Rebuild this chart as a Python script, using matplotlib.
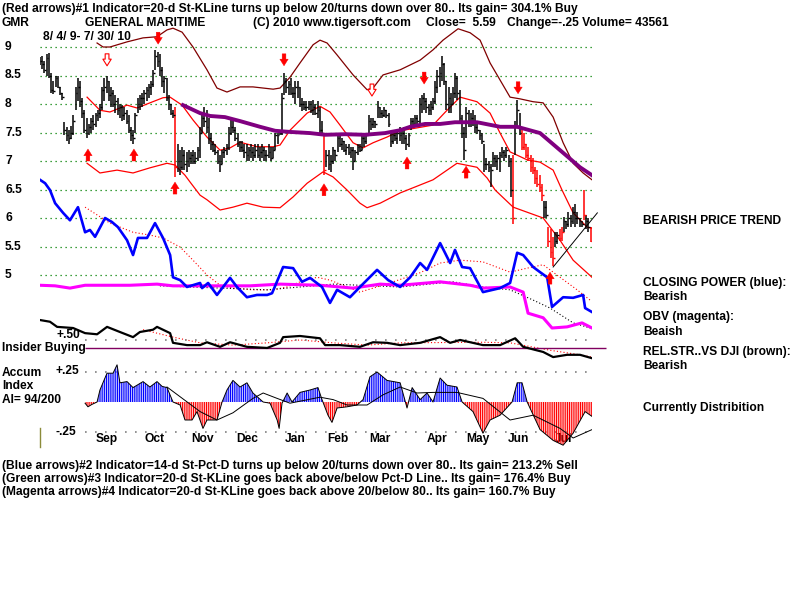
import numpy as np
import matplotlib
matplotlib.use('Agg')
import matplotlib.pyplot as plt
from matplotlib import transforms

# ---- daily bars (day index 0 = 8/4/09) ----
hi = [
    8.82, 8.85, 8.75, 8.88, 8.90, 8.55, 8.40, 8.50, 8.50, 8.30,
    8.20, 7.68, 7.60, 7.55, 7.62, 7.80, 8.30, 8.45, 8.40, 8.10,
    7.90, 7.75, 7.65, 7.75, 7.80, 7.85, 7.90, 8.00, 8.30, 8.45,
    8.50, 8.40, 8.30, 8.25, 8.15, 8.10, 8.00, 7.98, 7.95, 7.90,
    7.80, 7.60, 7.55, 7.85, 8.10, 8.15, 8.20, 8.25, 8.30, 8.35,
    8.40, 8.60, 8.95, 8.92, 8.88, 8.65, 8.50, 8.45, 8.15, 8.00,
    7.90, 7.95, 7.30, 7.20, 7.25, 7.20, 7.15, 7.20, 7.15, 7.20,
    7.15, 7.25, 7.60, 7.80, 7.95, 7.90, 7.75, 7.50, 7.35, 7.30,
    7.20, 7.10, 7.20, 7.25, 7.30, 7.60, 7.75, 7.70, 7.60, 7.50,
    7.35, 7.35, 7.30, 7.30, 7.25, 7.30, 7.25, 7.30, 7.30, 7.25,
    7.30, 7.25, 7.20, 7.30, 7.25, 7.25, 7.50, 7.50, 7.55, 8.20,
    8.55, 8.45, 8.40, 8.45, 8.30, 8.40, 8.40, 8.30, 8.10, 8.05,
    8.05, 8.05, 8.05, 8.07, 8.00, 8.05, 7.95, 7.70, 7.45, 7.20,
    7.20, 7.10, 7.25, 7.20, 7.45, 7.50, 7.40, 7.35, 7.30, 7.30,
    7.25, 7.25, 7.20, 7.30, 7.30, 7.45, 7.45, 7.50, 7.80, 7.75,
    7.75, 7.70, 8.05, 7.95, 7.90, 7.95, 7.90, 7.85, 7.50, 7.50,
    7.55, 7.55, 7.60, 7.55, 7.60, 7.45, 7.50, 7.75, 7.75, 7.80,
    7.80, 8.10, 8.15, 8.20, 8.10, 8.00, 8.05, 8.10, 8.40, 8.60,
    8.65, 8.85, 8.72, 8.40, 8.30, 8.20, 8.30, 8.55, 8.50, 8.25,
    7.80, 7.60, 7.95, 7.90, 7.85, 7.90, 7.80, 7.70, 7.55, 7.50,
    7.30, 7.05, 7.00, 6.95, 7.15, 7.10, 7.10, 7.15, 7.25, 7.20,
    7.25, 7.10, 7.05, 7.10, 7.70, 8.07, 7.85, 7.55, 7.50, 7.30,
    7.25, 7.10, 7.05, 6.90, 6.85, 6.75, 6.60, 6.30, 6.30, 5.85,
    5.80, 5.67, 5.75, 5.75, 5.80, 5.85, 6.02, 5.95, 6.10, 6.05,
    6.20, 6.25, 6.10, 6.00, 5.95, 6.50, 6.05, 6.00, 5.85,
]
lo = [
    8.68, 8.62, 8.55, 8.50, 8.45, 8.20, 8.18, 8.30, 8.28, 8.15,
    8.07, 7.45, 7.35, 7.30, 7.38, 7.45, 7.90, 8.05, 7.95, 7.75,
    7.50, 7.40, 7.45, 7.50, 7.55, 7.60, 7.70, 7.75, 7.90, 8.05,
    8.20, 8.05, 7.95, 7.95, 7.85, 7.80, 7.75, 7.70, 7.72, 7.65,
    7.50, 7.35, 7.30, 7.50, 7.85, 7.90, 7.95, 8.00, 8.05, 8.10,
    8.15, 8.30, 8.60, 8.65, 8.50, 8.30, 8.20, 8.05, 7.90, 7.80,
    7.75, 6.72, 6.80, 6.75, 6.85, 6.85, 6.80, 6.90, 6.95, 6.95,
    6.95, 7.00, 7.05, 7.50, 7.60, 7.50, 7.30, 7.20, 7.15, 7.10,
    6.95, 6.80, 6.95, 7.05, 7.10, 7.20, 7.45, 7.50, 7.35, 7.25,
    7.15, 7.15, 7.05, 7.00, 7.00, 7.05, 7.00, 7.05, 7.05, 7.00,
    7.05, 7.00, 7.00, 7.05, 7.00, 7.05, 7.20, 7.30, 7.45, 7.45,
    8.15, 8.20, 8.15, 8.15, 8.10, 8.00, 8.10, 7.95, 7.88, 7.90,
    7.88, 7.90, 7.85, 7.80, 7.80, 7.75, 7.50, 7.45, 6.75, 6.90,
    6.85, 6.80, 6.95, 7.00, 7.15, 7.25, 7.20, 7.15, 7.10, 7.10,
    7.05, 6.85, 7.00, 7.10, 7.15, 7.20, 7.25, 7.30, 7.50, 7.55,
    7.58, 7.58, 7.75, 7.75, 7.75, 7.78, 7.75, 7.60, 7.25, 7.30,
    7.35, 7.30, 7.35, 7.30, 7.30, 7.20, 7.25, 7.55, 7.60, 7.65,
    7.65, 7.65, 7.85, 7.90, 7.85, 7.80, 7.80, 7.90, 8.00, 8.20,
    8.30, 8.40, 8.33, 7.90, 7.85, 7.85, 8.00, 8.10, 8.07, 7.65,
    7.40, 7.02, 7.40, 7.60, 7.60, 7.62, 7.50, 7.48, 7.36, 7.30,
    6.80, 6.85, 6.80, 6.55, 6.90, 6.90, 6.85, 6.80, 7.05, 7.00,
    7.05, 6.90, 6.37, 5.90, 7.10, 7.60, 7.45, 7.20, 7.20, 7.05,
    7.00, 6.80, 6.78, 6.60, 6.55, 6.45, 6.30, 6.00, 6.00, 5.50,
    5.30, 5.15, 5.50, 5.55, 5.60, 5.60, 5.75, 5.80, 5.85, 5.85,
    5.90, 5.85, 5.90, 5.85, 5.85, 5.97, 5.80, 5.75, 5.58,
]
cl = [
    8.75, 8.70, 8.60, 8.80, 8.50, 8.25, 8.22, 8.45, 8.30, 8.20,
    8.12, 7.55, 7.45, 7.40, 7.50, 7.70, 8.20, 8.30, 8.05, 7.85,
    7.55, 7.50, 7.60, 7.70, 7.65, 7.80, 7.85, 7.95, 8.25, 8.30,
    8.40, 8.15, 8.20, 8.00, 8.05, 7.90, 7.95, 7.80, 7.85, 7.70,
    7.55, 7.45, 7.40, 7.80, 8.00, 8.10, 8.10, 8.20, 8.25, 8.30,
    8.35, 8.55, 8.85, 8.75, 8.60, 8.40, 8.45, 8.10, 8.00, 7.85,
    7.80, 6.90, 7.00, 6.90, 7.10, 6.95, 7.00, 7.05, 7.10, 7.00,
    7.05, 7.20, 7.50, 7.75, 7.70, 7.60, 7.40, 7.30, 7.20, 7.15,
    7.00, 6.95, 7.15, 7.20, 7.25, 7.50, 7.60, 7.55, 7.40, 7.30,
    7.25, 7.20, 7.15, 7.10, 7.20, 7.15, 7.10, 7.20, 7.10, 7.15,
    7.20, 7.10, 7.10, 7.15, 7.05, 7.20, 7.45, 7.45, 7.50, 8.10,
    8.40, 8.30, 8.35, 8.20, 8.20, 8.30, 8.30, 8.00, 8.00, 7.95,
    7.95, 8.00, 7.90, 7.95, 7.85, 7.90, 7.55, 7.50, 6.85, 7.10,
    6.95, 7.00, 7.20, 7.10, 7.40, 7.30, 7.35, 7.20, 7.25, 7.15,
    7.20, 7.00, 7.15, 7.25, 7.20, 7.40, 7.35, 7.45, 7.70, 7.65,
    7.70, 7.65, 7.95, 7.85, 7.80, 7.90, 7.80, 7.65, 7.35, 7.45,
    7.40, 7.50, 7.45, 7.50, 7.40, 7.30, 7.45, 7.70, 7.65, 7.75,
    7.70, 8.00, 8.10, 8.05, 7.95, 7.90, 7.95, 8.05, 8.30, 8.50,
    8.55, 8.70, 8.40, 8.00, 8.10, 8.00, 8.20, 8.45, 8.20, 7.75,
    7.50, 7.20, 7.85, 7.70, 7.75, 7.70, 7.60, 7.55, 7.45, 7.35,
    6.95, 6.95, 6.90, 6.85, 7.05, 7.00, 7.05, 7.10, 7.15, 7.10,
    7.20, 7.00, 6.50, 6.00, 7.60, 7.90, 7.50, 7.25, 7.30, 7.10,
    7.05, 6.90, 6.85, 6.70, 6.60, 6.55, 6.40, 6.20, 6.05, 5.60,
    5.40, 5.30, 5.60, 5.70, 5.65, 5.75, 5.95, 5.90, 6.00, 5.95,
    6.10, 6.00, 6.00, 5.95, 5.90, 6.05, 5.95, 5.85, 5.59,
]
red_bars = [61, 128, 213, 217, 218, 219, 220, 221, 222, 223, 224, 225, 226,
            229, 230, 231, 234, 235, 245, 248]

# ---- bands and averages (day, price) ----
band_hi_d = [25.7, 28.4, 31.5, 39.2, 46.4, 52.7, 57.2, 59.9, 64, 68.9, 75.2, 79.7, 84.2,
             90.1, 95.9, 105, 108.1, 112.6, 117.1, 123, 126.1, 129.3, 133.8, 141, 147.3,
             150, 154.5, 162.2, 171.2, 177, 181.5, 188.3, 193.7, 198.2, 202.7, 207.2,
             211.7, 216.2, 222.1, 226.6, 231.1, 235.6, 240.1, 244.6, 248.6]
band_hi_v = [9.07, 9.0, 9.0, 9.09, 9.16, 9.18, 9.3, 9.33, 9.26, 9.0, 8.6, 8.28, 8.21,
             8.3, 8.3, 8.26, 8.28, 8.47, 8.72, 9.04, 9.12, 9.07, 8.86, 8.51, 8.25,
             8.28, 8.51, 8.6, 8.77, 8.95, 9.12, 9.32, 9.25, 9.12, 8.72, 8.42,
             8.12, 8.09, 8.04, 8.02, 7.77, 7.32, 6.96, 6.79, 6.67]
mid_d = [21.2, 27, 31.5, 39.2, 43.7, 49.5, 55.4, 58.6, 64, 68.9, 75.2, 81.1, 85.6, 90.1,
         97.7, 105, 108.1, 112.6, 120.3, 126.1, 130.6, 135.1, 141, 145.5, 150, 156.3,
         162.2, 177, 183.3, 189.2, 196.8, 202.7, 207.2, 211.7, 219.4, 225.2, 231.1,
         235.1, 240.1, 246.4, 248.6]
mid_v = [8.12, 7.89, 7.86, 7.98, 7.93, 8.02, 8.11, 8.12, 7.98, 7.72, 7.42, 7.19, 7.23, 7.33,
         7.25, 7.25, 7.28, 7.54, 7.84, 7.96, 7.86, 7.63, 7.32, 7.23, 7.32, 7.42,
         7.53, 7.63, 7.89, 8.12, 8.04, 7.84, 7.49, 7.16, 7.02, 6.98, 6.84,
         6.49, 6.09, 5.84, 5.82]
band_lo_d = [21.2, 27, 34.7, 41.9, 49.5, 57.2, 60.8, 65.3, 67.6, 72.1, 75.2, 81.1, 86.9,
             93.2, 100.5, 108.1, 114, 120.3, 127.5, 132, 138.3, 144.1, 147.3, 153.2,
             162.2, 177, 187.8, 196.8, 201.4, 205, 213.1, 226.6, 234.2, 240.1, 248.6]
band_lo_v = [6.96, 6.79, 6.84, 6.79, 6.88, 6.96, 6.93, 6.75, 6.63, 6.4, 6.32, 6.14, 6.19,
             6.26, 6.19, 6.18, 6.37, 6.61, 6.81, 6.72, 6.49, 6.26, 6.18, 6.26,
             6.44, 6.67, 6.96, 6.89, 6.7, 6.49, 6.19, 6.0, 5.61, 5.26, 4.96]
ma65_d = [64.4, 72.1, 76.6, 83.3, 90.1, 99.1, 105.9, 112.6, 121.6, 128.4, 137.4, 146.4,
          155.4, 162.2, 166.7, 173.4, 180.2, 186.9, 196.8, 207.2, 214.9, 225.2, 234.2,
          243.2, 248.6]
ma65_v = [7.98, 7.84, 7.79, 7.77, 7.7, 7.6, 7.53, 7.51, 7.49, 7.46, 7.47, 7.46,
          7.49, 7.54, 7.6, 7.65, 7.65, 7.68, 7.68, 7.6, 7.6, 7.49, 7.19,
          6.89, 6.75]

# ---- indicator lines drawn in the price panel ----
cp_d = [0, 2.3, 4.5, 6.8, 10.4, 13.5, 17.1, 20.3, 22.5, 24.8, 29.3, 32.4, 35.1, 39.2, 41.9,
        44.1, 48.2, 51.8, 55.4, 58.6, 59.9, 63.1, 66.2, 72.1, 73, 75.7, 79.7, 85.6, 88.7,
        93.2, 97.7, 102.3, 104.5, 109.5, 114, 118, 121.6, 127, 130.6, 133.8, 139.6,
        144.1, 151.8, 156.8, 162.2, 166.7, 171.2, 174.3, 180.2, 184.7, 186.9, 190.1,
        193.7, 199.5, 207.2, 211.7, 214.9, 217.6, 222.1, 225.2, 228.4, 230.6, 235.6,
        240.1, 244.6, 245.5, 248.6]
cp_v = [6.67, 6.61, 6.49, 6.26, 6.09, 5.96, 6.19, 5.75, 5.79, 5.67, 6.0, 5.93, 5.84, 5.61, 5.35,
        5.65, 5.65, 5.91, 5.65, 5.35, 4.96, 4.91, 4.79, 4.86, 4.77, 4.86, 4.65, 4.95, 4.79,
        4.61, 4.65, 4.65, 4.68, 5.14, 5.12, 4.88, 4.95, 4.79, 4.51, 4.74, 4.61,
        4.79, 5.09, 4.91, 4.79, 4.96, 5.21, 5.09, 5.56, 5.21, 5.44, 5.14,
        5.12, 4.7, 4.77, 4.86, 5.39, 5.35, 5.14, 5.05, 4.96, 4.44, 4.61,
        4.6, 4.65, 4.42, 4.35]
cp_ma_d = [20.3, 31.5, 41.9, 49.5, 55.4, 63.1, 68.9, 75.2, 81.1, 86.9, 95.9, 105, 111.3,
           117.1, 124.8, 130.6, 138.3, 144.1, 150, 159, 171.2, 180.2, 189.2, 199.5,
           211.7, 219.4, 226.6, 234.2, 241.9, 247.7]
cp_ma_v = [6.19, 5.91, 5.75, 5.7, 5.65, 5.49, 5.26, 5.0, 4.82, 4.77, 4.74, 4.74, 4.79,
           4.88, 4.96, 4.91, 4.79, 4.7, 4.77, 4.88, 5.04, 5.21, 5.26, 5.23,
           5.05, 5.12, 5.18, 4.96, 4.74, 4.56]
obv_d = [0, 6.8, 13.5, 20.3, 28.4, 40.5, 52.7, 59.9, 72.1, 94.6, 108.1, 126.1, 141, 153.2,
         162.2, 180.2, 193.7, 199.5, 211.7, 217.6, 219.8, 226.6, 230.6, 237.4, 244.1, 248.6]
obv_v = [4.82, 4.81, 4.77, 4.82, 4.82, 4.82, 4.84, 4.81, 4.81, 4.81, 4.84, 4.82, 4.77, 4.84,
         4.82, 4.88, 4.82, 4.77, 4.79, 4.7, 4.33, 4.25, 4.07, 4.09, 4.16, 4.07]
obv_ma_d = [54, 102.3, 132, 162.2, 186, 199.5, 211.7, 222.1, 229.7, 240.1, 247.7]
obv_ma_v = [4.81, 4.74, 4.84, 4.79, 4.88, 4.79, 4.74, 4.56, 4.42, 4.16, 4.07]
rs_d = [0, 4.5, 7.7, 14.9, 20.3, 25.7, 30.2, 36, 41.9, 45, 50.9, 52.7, 58.6, 59.9, 66.2,
        72.1, 75.2, 81.1, 85.6, 93.2, 102.3, 108.1, 109.5, 117.1, 126.1, 128.4, 135.1,
        144.1, 150, 156.3, 162.2, 171.2, 180.2, 184.7, 189.2, 199.5, 207.2, 214,
        217.6, 226.6, 231.1, 237.4, 243.2, 248.6]
rs_v = [4.21, 4.18, 4.09, 4.07, 3.98, 3.96, 4.09, 4.0, 3.91, 4.0, 4.04, 4.09, 3.98, 3.81, 3.77,
        3.77, 3.82, 3.74, 3.82, 3.74, 3.72, 3.81, 3.91, 3.93, 3.89, 3.77, 3.77,
        3.74, 3.82, 3.81, 3.77, 3.81, 3.91, 3.81, 3.86, 3.77, 3.77, 3.89,
        3.74, 3.65, 3.56, 3.6, 3.6, 3.54]
rs_ma_d = [46.4, 59.9, 72.1, 86.9, 102.3, 117.1, 132, 147.3, 162.2, 199.5, 211.7, 229.7,
           243.2, 248.6]
rs_ma_v = [4.04, 3.91, 3.81, 3.77, 3.81, 3.86, 3.81, 3.77, 3.81, 3.82, 3.81, 3.68,
           3.6, 3.56]
insider_level = 3.72
rs_level = 3.86

# ---- signals ----
up_days = [21.6, 42.3, 60.8, 127.9, 165.3, 191.9, 229.7]
up_tips = [7.21, 7.21, 6.63, 6.60, 7.07, 6.91, 5.05]
down_days = [30.2, 53.2, 109.9, 149.5, 173.0, 215.3]
down_tips = [8.67, 9.05, 8.67, 8.14, 8.35, 8.18]
down_hollow = [True, False, False, True, False, False]
trend_d = [231.1, 251.0]
trend_v = [5.14, 6.09]

# ---- accumulation index ----
acc_d = [20.3, 21.6, 23.4, 25.7, 27, 28.8, 30.2, 32.9, 34.7, 36, 39.2, 41.9, 46.4, 49.5,
         52.7, 55, 57.2, 59.9, 63.1, 65.3, 68.5, 70.7, 73.4, 75.2, 79.7, 82, 84.2, 86.9,
         90.1, 93.2, 95.9, 100.5, 103.6, 106.8, 107.7, 109, 111.3, 113.5, 117.1, 121.6,
         125.2, 127, 129.7, 131.5, 133.8, 138.3, 142.8, 145.5, 148.6, 151.8, 156.3,
         162.2, 165.3, 167.6, 171.2, 174.3, 177, 180.2, 183.3, 187.8, 190.1, 195,
         199.5, 202.7, 207.2, 212.6, 214.9, 217.1, 219.4, 225.2, 231.1, 235.6, 240.1,
         245.5, 249]
acc_v = [-0.01, -0.04, -0.02, 0, 0.1, 0.18, 0.24, 0.24, 0.31, 0.16, 0.17, 0.12, 0.17, 0.125,
         0.17, 0.13, 0.12, 0, -0.025, -0.15, -0.15, -0.08, -0.22, -0.15, -0.15, 0, 0.1, 0.18,
         0.125, 0.16, 0.075, 0, -0.01, -0.15, -0.22, -0.01, 0.075, 0, 0.08, 0.1,
         0.12, 0.02, -0.11, -0.17, -0.05, -0.04, -0.025, 0.02, 0.21, 0.25, 0.18,
         0.16, -0.05, 0.12, 0.02, 0.075, 0, 0.2, 0.14, 0.125, 0, -0.08,
         -0.26, -0.15, -0.11, 0, 0.16, 0.16, 0, -0.23, -0.32, -0.36, -0.26,
         -0.08, -0.125]
acc_ma_d = [57.2, 72.1, 79.7, 86.9, 95.9, 100.5, 106.8, 112.6, 126.1, 132, 138.3, 147.3,
            154.5, 162.2, 169.8, 177, 187.8, 199.5, 211.7, 222.1, 234.2, 240.1, 248.6]
acc_ma_v = [0.125, -0.08, -0.15, -0.09, 0.03, 0.075, 0.03, -0.01, 0.04, 0.02, -0.025, -0.025,
            0.06, 0.125, 0.075, 0.08, 0.08, 0.03, -0.15, -0.11, -0.22, -0.3, -0.23]

price_levels = [9, 8.5, 8, 7.5, 7, 6.5, 6, 5.5, 5]
price_labels = ['9', '8.5', '8', '7.5', '7', '6.5', '6', '5.5', '5']
months = ['Sep', 'Oct', 'Nov', 'Dec', 'Jan', 'Feb', 'Mar', 'Apr', 'May', 'Jun', 'Jul']
month_pos = [30.2, 51.4, 73.4, 93.2, 114.9, 134.2, 153.2, 178.8, 197.3, 215.3, 235.6]

head1 = ("(Red arrows)#1 Indicator=20-d St-KLine turns up below 20/turns down over 80.. "
         "Its gain= 304.1% Buy")
foot = ["(Blue arrows)#2 Indicator=14-d St-Pct-D turns up below 20/turns down over 80.. Its gain= 213.2% Sell",
        "(Green arrows)#3 Indicator=20-d St-KLine goes back above/below Pct-D Line.. Its gain= 176.4% Buy",
        "(Magenta arrows)#4 Indicator=20-d St-KLine goes back above 20/below 80.. Its gain= 160.7% Buy"]

fig = plt.figure(figsize=(8, 6), dpi=100)
fig.patch.set_facecolor('white')

# price panel spans the whole figure height; x from 40px to 592px
ax = fig.add_axes([40 / 800, 0, 552 / 800, 1])
ax.set_xlim(0, 248.6)
ax.set_ylim(9 - 553 / 57, 9 + 47 / 57)
ax.axis('off')
# accumulation panel overlay
ax2 = fig.add_axes([40 / 800, 0, 552 / 800, 1])
ax2.set_xlim(0, 248.6)
ax2.set_ylim(-198 / 120, 402 / 120)
ax2.axis('off')

texts = []
FONT = dict(family=['Liberation Sans Narrow', 'Liberation Sans'], fontweight='bold', fontsize=9)


def ftext(x, y, s, **kw):
    t = fig.text(x / 800, 1 - y / 600, s, va='center', **FONT, **kw)
    texts.append(t)
    return t


# grid
ax.hlines(price_levels, 0, 248.6, colors='#008000', linestyles=(0, (1, 3)), lw=0.9)
ytrans = transforms.blended_transform_factory(fig.transFigure, ax.transData)
for lv, lb in zip(price_levels, price_labels):
    texts.append(ax.text(5 / 800, lv, lb, transform=ytrans, va='center', **FONT))

# bars
days = np.arange(len(hi))
colors = ['red' if i in red_bars else 'black' for i in days]
ax.vlines(days, lo, hi, colors=colors, lw=1.1, zorder=3)
ax.hlines(cl, days, days + 0.8, colors=colors, lw=1.0, zorder=3)

# bands
ax.plot(band_hi_d, band_hi_v, color='#800000', lw=0.9, zorder=2)
ax.plot(mid_d, mid_v, color='#ff0000', lw=0.9, zorder=2)
ax.plot(band_lo_d, band_lo_v, color='#ff0000', lw=0.9, zorder=2)
ax.plot(ma65_d, ma65_v, color='#800080', lw=2.8, zorder=4)
ax.plot(trend_d, trend_v, color='black', lw=0.7, zorder=4, clip_on=False)

# indicators
ax.plot(cp_ma_d, cp_ma_v, color='#ff0000', lw=0.8, ls=(0, (1, 2)), zorder=2)
ax.plot(obv_ma_d, obv_ma_v, color='black', lw=0.8, ls=(0, (1, 2)), zorder=2)
ax.plot(rs_ma_d, rs_ma_v, color='#ff0000', lw=0.8, ls=(0, (1, 2)), zorder=2)
ax.plot(obv_d, obv_v, color='#ff00ff', lw=2.2, zorder=3)
ax.plot(cp_d, cp_v, color='#0000ff', lw=1.9, zorder=4)
ax.plot(rs_d, rs_v, color='black', lw=1.6, zorder=4)
ax.hlines(rs_level, 20.3, 248.6, colors='#808080', linestyles=(0, (1, 5)), lw=1.2)
ax.hlines(insider_level, 20.3, 255.0, colors='#800060', lw=1.0, clip_on=False)

# arrows
for d, t in zip(up_days, up_tips):
    ax.annotate('', xy=(d, t), xytext=(d, t - 0.21),
                arrowprops=dict(arrowstyle='simple,head_length=0.8,head_width=1.0,tail_width=0.45',
                                fc='red', ec='red', lw=0.3, mutation_scale=6,
                                shrinkA=0, shrinkB=0), zorder=6)
for d, t, h in zip(down_days, down_tips, down_hollow):
    ax.annotate('', xy=(d, t), xytext=(d, t + 0.21),
                arrowprops=dict(arrowstyle='simple,head_length=0.8,head_width=1.0,tail_width=0.45',
                                fc='white' if h else 'red', ec='red', lw=0.8 if h else 0.3,
                                mutation_scale=6, shrinkA=0, shrinkB=0), zorder=6)

# accumulation index
plt.rcParams['hatch.linewidth'] = 0.8
acc_d_a = np.array(acc_d)
acc_v_a = np.array(acc_v)
ax2.fill_between(acc_d_a, 0, acc_v_a, where=acc_v_a >= 0, interpolate=True,
                 facecolor='none', edgecolor='#0000ff', hatch='|' * 9, lw=0, zorder=3)
ax2.fill_between(acc_d_a, 0, acc_v_a, where=acc_v_a <= 0, interpolate=True,
                 facecolor='none', edgecolor='#ff0000', hatch='|' * 9, lw=0, zorder=3)
ax2.plot(acc_d, acc_v, color='black', lw=0.7, zorder=4)
ax2.plot(acc_ma_d, acc_ma_v, color='black', lw=0.7, zorder=4)
ax2.hlines([0.25, -0.25], 20.3, 248.6, colors='#808080', linestyles=(0, (1, 5)), lw=1.2)

mtrans = transforms.blended_transform_factory(ax2.transData, fig.transFigure)
for m, p in zip(months, month_pos):
    texts.append(ax2.text(p, 1 - 439 / 600, m, transform=mtrans, ha='center', va='center',
                          zorder=1, **FONT))

# olive tick at left of accum panel
fig.add_artist(plt.Line2D([39.5 / 800, 39.5 / 800], [1 - 428 / 600, 1 - 447 / 600],
                          color='#8b8b3a', lw=1.0))

# texts
head = ftext(2, 9, head1)
ftext(2, 23, 'GMR')
ftext(85, 23, 'GENERAL MARITIME')
ftext(253, 23, '(C) 2010 www.tigersoft.com')
ftext(426, 23, 'Close=  5.59')
ftext(507, 23, 'Change=-.25 Volume= 43561')
ftext(43, 37, '8/ 4/ 9- 7/ 30/ 10')
ftext(57, 335, '+.50')
ftext(2, 348, 'Insider Buying')
ftext(2, 373, 'Accum')
ftext(2, 386, 'Index')
ftext(2, 400, 'AI= 94/200')
ftext(55, 371, '+.25')
ftext(55, 432, '-.25')
ftext(643, 221, 'BEARISH PRICE TREND')
ftext(643, 283, 'CLOSING POWER (blue):')
ftext(643, 297, 'Bearish')
ftext(643, 317, 'OBV (magenta):')
ftext(643, 332, 'Beaish')
ftext(643, 352, 'REL.STR..VS DJI (brown):')
ftext(643, 366, 'Bearish')
ftext(643, 408, 'Currently Distribition')
for k, s in enumerate(foot):
    ftext(2, 466 + 13 * k, s)

# fit the font so the header line spans the same width as in the reference
fig.canvas.draw()
w = head.get_window_extent(fig.canvas.get_renderer()).width
fs = 9 * 575 / w
for t in texts:
    t.set_fontsize(fs)

fig.savefig('out.png', dpi=100, facecolor='white')
